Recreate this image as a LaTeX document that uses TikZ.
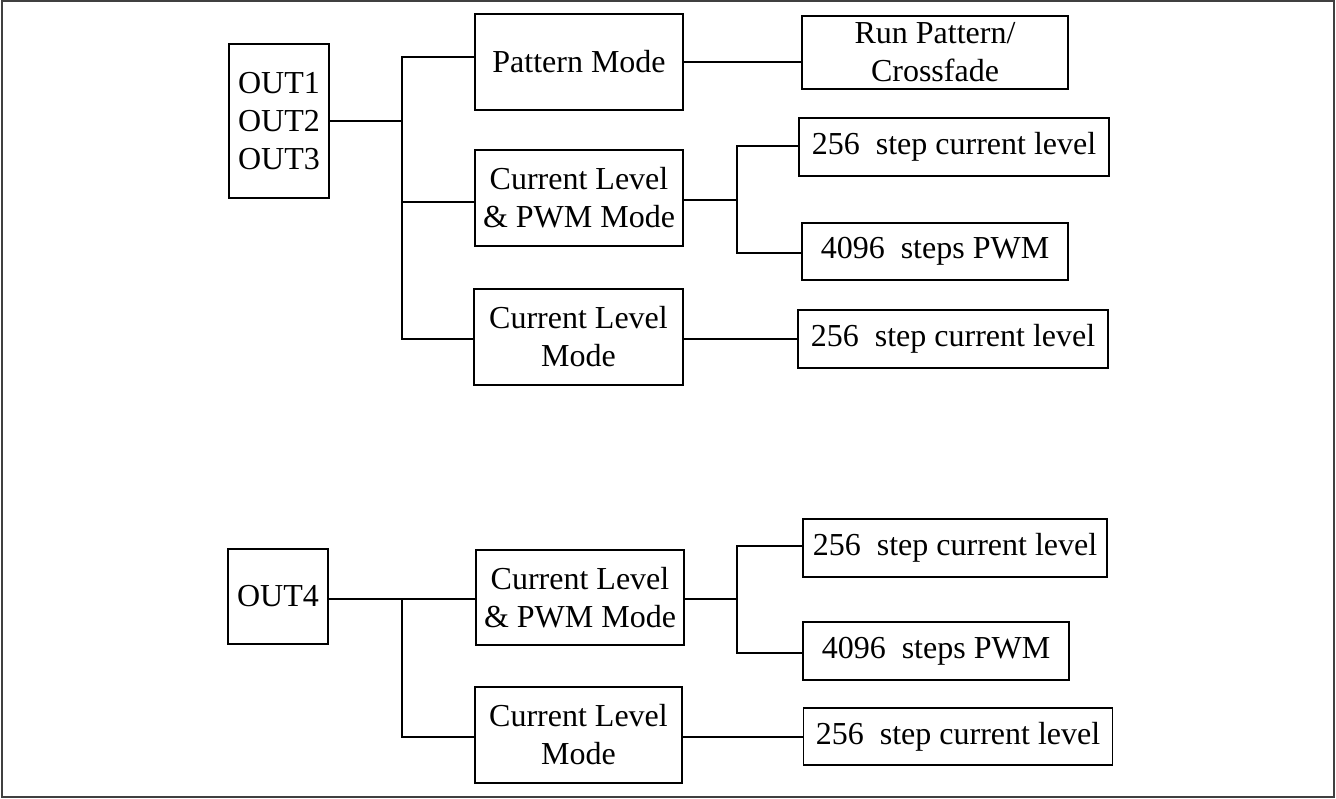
\documentclass[tikz,border=0pt]{standalone}
\usepackage{fontspec}
\setmainfont{Liberation Serif}
\begin{document}
\begin{tikzpicture}[x=1pt,y=-1pt,
  box/.style={draw, line width=1.8pt, inner sep=0pt, align=center,
    font=\fontsize{32}{38}\selectfont},
  wire/.style={line width=1.8pt, line join=miter}]
\useasboundingbox (0,0) rectangle (1336,799);
\draw[line width=2pt, black!75] (2,1) rectangle (1334,797);
% ---- top group ----
\node[box, minimum width=100pt, minimum height=154pt] (out123) at (279,121) {OUT1\\OUT2\\OUT3};
\node[box, minimum width=208pt, minimum height=96pt] (pm) at (579,62) {Pattern Mode};
\node[box, minimum width=208pt, minimum height=96pt] (clpwm1) at (579,198) {Current Level\\\& PWM Mode};
\node[box, minimum width=209pt, minimum height=96pt] (clm1) at (578.5,337) {Current Level\\Mode};
\node[box, minimum width=266pt, minimum height=73pt] (rp) at (935,52.5) {Run Pattern/\\Crossfade};
\node[box, minimum width=310pt, minimum height=58pt] (s256a) at (954,147) {256~ step current level};
\node[box, minimum width=266pt, minimum height=57pt] (p4096a) at (935,251.5) {4096~ steps PWM};
\node[box, minimum width=310pt, minimum height=58pt] (s256b) at (953,339) {256~ step current level};
\coordinate (ta) at (402,57);
\coordinate (tb) at (402,121);
\coordinate (tc) at (402,202);
\coordinate (td) at (402,339);
\coordinate (ua) at (737,146);
\coordinate (ub) at (737,200);
\coordinate (uc) at (737,253);
\draw[wire] (out123.east |- tb) -- (tb);
\draw[wire] (ta -| pm.west) -- (ta) -- (td) -- (td -| clm1.west);
\draw[wire] (tc) -- (tc -| clpwm1.west);
\draw[wire] (pm.east) -- (pm.east -| rp.west);
\draw[wire] (ub -| clpwm1.east) -- (ub);
\draw[wire] (ua -| s256a.west) -- (ua) -- (uc) -- (uc -| p4096a.west);
\draw[wire] (clm1.east |- s256b.west) -- (s256b.west);
% ---- bottom group ----
\node[box, minimum width=100pt, minimum height=95pt] (out4) at (278,596.5) {OUT4};
\node[box, minimum width=208pt, minimum height=95pt] (clpwm2) at (580,597.5) {Current Level\\\& PWM Mode};
\node[box, minimum width=207pt, minimum height=96pt] (clm2) at (578.5,735) {Current Level\\Mode};
\node[box, minimum width=304pt, minimum height=58pt] (s256c) at (955,548) {256~ step current level};
\node[box, minimum width=266pt, minimum height=58pt] (p4096b) at (936,651) {4096~ steps PWM};
\node[box, minimum width=309pt, minimum height=57pt] (s256d) at (958,736.5) {256~ step current level};
\coordinate (va) at (402,599);
\coordinate (vb) at (402,737);
\coordinate (wa) at (737,546);
\coordinate (wb) at (737,599);
\coordinate (wc) at (737,653);
\draw[wire] (out4.east |- va) -- (va -| clpwm2.west);
\draw[wire] (va) -- (vb) -- (vb -| clm2.west);
\draw[wire] (wb -| clpwm2.east) -- (wb);
\draw[wire] (wa -| s256c.west) -- (wa) -- (wc) -- (wc -| p4096b.west);
\draw[wire] (vb -| clm2.east) -- (vb -| s256d.west);
\end{tikzpicture}
\end{document}
